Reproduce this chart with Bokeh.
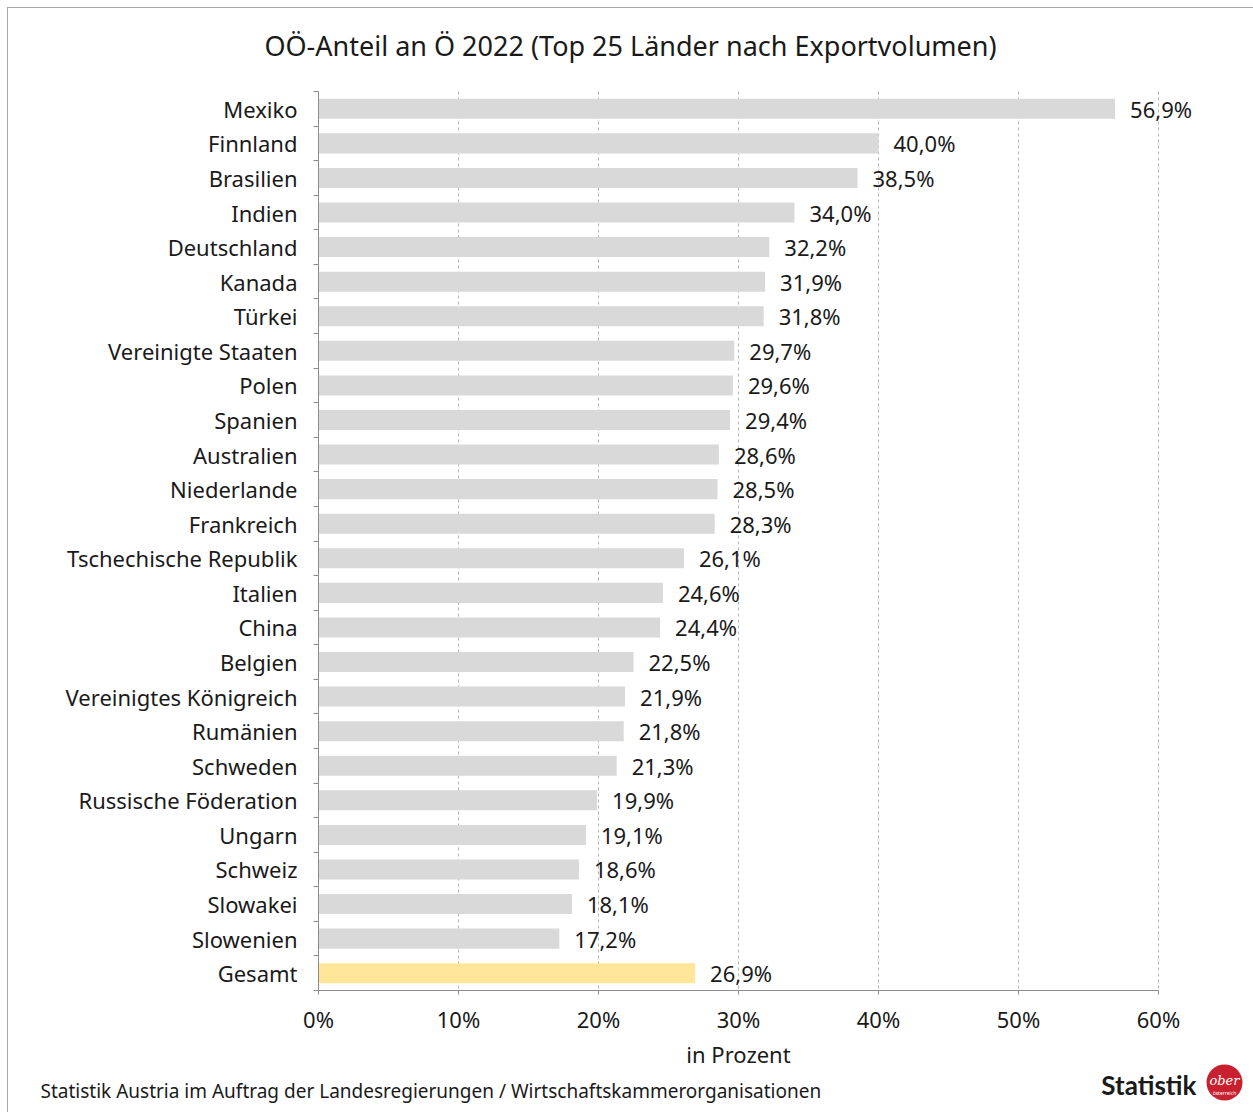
from bokeh.plotting import figure
from bokeh.models import (Range1d, LinearAxis, FixedTicker, ColumnDataSource, LabelSet, Grid)
from bokeh.layouts import column
from bokeh.core.properties import value
from bokeh.embed import file_html
from bokeh.resources import INLINE

countries = ["Mexiko", "Finnland", "Brasilien", "Indien", "Deutschland", "Kanada", "Türkei",
             "Vereinigte Staaten", "Polen", "Spanien", "Australien", "Niederlande", "Frankreich",
             "Tschechische Republik", "Italien", "China", "Belgien", "Vereinigtes Königreich",
             "Rumänien", "Schweden", "Russische Föderation", "Ungarn", "Schweiz", "Slowakei",
             "Slowenien", "Gesamt"]
values = [56.9, 40.0, 38.5, 34.0, 32.2, 31.9, 31.8, 29.7, 29.6, 29.4, 28.6, 28.5, 28.3,
          26.1, 24.6, 24.4, 22.5, 21.9, 21.8, 21.3, 19.9, 19.1, 18.6, 18.1, 17.2, 26.9]
x_ticks = [0, 10, 20, 30, 40, 50, 60]
title_text = "OÖ-Anteil an Ö 2022 (Top 25 Länder nach Exportvolumen)"
axis_title = "in Prozent"
source_text = "Statistik Austria im Auftrag der Landesregierungen / Wirtschaftskammerorganisationen"

FONT = "Noto Sans"
TXT = "#1a1a1a"
W = 1245
H_TITLE, H_MAIN, H_FOOT = 83, 945, 76
ML, MR, MB = 310, 11, 46

n = len(countries)
centers = [i + 0.5 for i in range(n)]
colors = ["#ffe699" if c == "Gesamt" else "#d9d9d9" for c in countries]
labels = [("%.1f" % v).replace(".", ",") + "%" for v in values]
src = ColumnDataSource(dict(y=centers, v=values, c=colors, lab=labels))


def blank(h):
    f = figure(width=W, height=h, output_backend="svg", toolbar_location=None,
               x_range=Range1d(0, W), y_range=Range1d(h, 0),
               x_axis_type=None, y_axis_type=None,
               min_border=0, min_border_left=0, min_border_right=0,
               min_border_top=0, min_border_bottom=0, frame_align=False)
    f.outline_line_color = None
    f.grid.visible = False
    f.background_fill_color = "white"
    f.border_fill_color = "white"
    return f


# ---- title strip
pt = blank(H_TITLE)
pt.text(x=[622], y=[37], text=[title_text], text_align="center", text_baseline="middle",
        text_font=value(FONT), text_font_size=value("27px"), text_color=TXT)

# ---- main chart
p = figure(width=W, height=H_MAIN, output_backend="svg", toolbar_location=None,
           x_range=Range1d(0, 66), y_range=Range1d(n, 0),
           x_axis_type=None, y_axis_type=None, frame_align=False,
           min_border_left=ML, min_border_right=MR, min_border_top=0, min_border_bottom=MB)
p.outline_line_color = None
p.background_fill_color = "white"
p.border_fill_color = "white"

p.hbar(y="y", right="v", left=0, height=0.58, fill_color="c", line_color=None, source=src)

xa = LinearAxis(ticker=FixedTicker(ticks=x_ticks), bounds=(0, 60))
xa.major_label_overrides = {t: "%d%%" % t for t in x_ticks}
xa.axis_line_color = "#8c8c8c"
xa.major_tick_line_color = "#8c8c8c"
xa.major_tick_out = 4
xa.major_tick_in = 0
xa.minor_tick_line_color = None
xa.major_label_text_font = FONT
xa.major_label_text_font_size = "22px"
xa.major_label_text_color = TXT
xa.major_label_standoff = 9
p.add_layout(xa, "below")

ya = LinearAxis(ticker=FixedTicker(ticks=centers, minor_ticks=list(range(n + 1))), bounds=(0, n))
ya.major_label_overrides = {c: name for c, name in zip(centers, countries)}
ya.axis_line_color = "#8c8c8c"
ya.major_tick_line_color = None
ya.major_tick_out = 0
ya.major_tick_in = 0
ya.minor_tick_line_color = "#8c8c8c"
ya.minor_tick_out = 5
ya.minor_tick_in = 0
ya.major_label_text_font = FONT
ya.major_label_text_font_size = "22px"
ya.major_label_text_color = TXT
ya.major_label_standoff = 16
p.add_layout(ya, "left")

g = Grid(dimension=0, ticker=FixedTicker(ticks=x_ticks[1:]))
g.grid_line_color = "#b4b4b4"
g.grid_line_dash = "3 3"
g.grid_line_width = 1
p.add_layout(g)

ls = LabelSet(x="v", y="y", text="lab", source=src, x_offset=15,
              text_baseline="middle", text_font=value(FONT), text_font_size=value("22px"),
              text_color=TXT)
p.add_layout(ls)

# ---- footer strip
pf = blank(H_FOOT)
pf.text(x=[730], y=[17], text=[axis_title], text_align="center", text_baseline="middle",
        text_font=value(FONT), text_font_size=value("22px"), text_color=TXT)
pf.text(x=[32], y=[54], text=[source_text], text_align="left", text_baseline="middle",
        text_font=value(FONT), text_font_size=value("19px"), text_color=TXT)
pf.text(x=[1188], y=[48], text=["Statistik"], text_align="right", text_baseline="middle",
        text_font=value("Lato"), text_font_style="bold", text_font_size=value("26px"),
        text_color=TXT)
pf.scatter(x=[1216], y=[46], size=36, marker="circle", fill_color="#c8202e", line_color=None)
pf.text(x=[1216], y=[44], text=["ober"], text_align="center", text_baseline="middle",
        text_font=value("DejaVu Serif"), text_font_style="italic",
        text_font_size=value("13px"), text_color="white")
pf.text(x=[1216], y=[56], text=["österreich"], text_align="center", text_baseline="middle",
        text_font=value(FONT), text_font_size=value("5px"), text_color="white")

layout = column(pt, p, pf, spacing=0,
                styles={"margin-left": "7px", "margin-top": "7px",
                        "border-top": "1px solid #a6a6a6",
                        "border-left": "1px solid #a6a6a6"})

open("out.html", "w").write(file_html(layout, INLINE))
